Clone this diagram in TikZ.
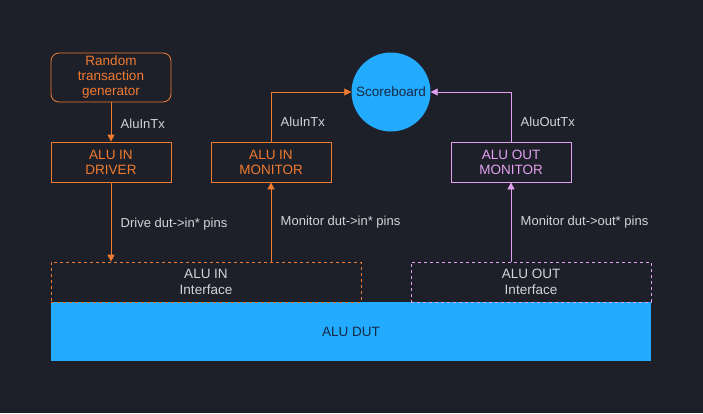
\documentclass[tikz,border=0pt]{standalone}
\usepackage{fontspec}
\setmainfont{Liberation Sans}
\usetikzlibrary{arrows.meta}
\definecolor{bgcol}{RGB}{30,32,41}
\definecolor{orng}{RGB}{240,122,48}
\definecolor{vio}{RGB}{226,160,240}
\definecolor{dutblue}{RGB}{34,171,255}
\definecolor{lblgray}{RGB}{212,212,216}
\definecolor{darktxt}{RGB}{22,40,68}
\begin{document}
\begin{tikzpicture}[x=1pt,y=-1pt,
    box/.style={draw=#1,text=#1,line width=0.8pt,minimum width=120pt,minimum height=40pt,inner sep=0pt,align=center,font=\fontsize{13.5}{15}\selectfont},
    iface/.style={draw=#1,dashed,line width=0.7pt,inner sep=0pt,align=center,text=lblgray,font=\fontsize{13.5}{15.5}\selectfont},
    lbl/.style={text=lblgray,font=\fontsize{13}{15}\selectfont,right,xshift=6pt},
    conn/.style={draw=#1,line width=0.8pt,-{Triangle[width=7pt,length=7pt]}}]
    \fill[bgcol] (0,0) rectangle (703,413);
    \useasboundingbox (0,0) rectangle (703,413);
    \node[box=orng,rounded corners=8pt,minimum height=49pt] (gen) at (111,77.5) {Random\\transaction\\generator};
    \node[box=orng] (drv) at (111,162) {ALU IN\\DRIVER};
    \node[box=orng] (mon) at (271,162) {ALU IN\\MONITOR};
    \node[box=vio] (omon) at (511,162) {ALU OUT\\MONITOR};
    \node[circle,fill=dutblue,minimum size=79pt,inner sep=0pt,text=darktxt,font=\fontsize{13.5}{15}\selectfont] (sb) at (391,92) {Scoreboard};
    \node[fill=dutblue,minimum width=600pt,minimum height=59pt,inner sep=0pt,text=darktxt,font=\fontsize{13.5}{15}\selectfont] (dut) at (351,331.5) {ALU DUT};
    \node[iface=orng,minimum width=310pt,minimum height=40pt] (inif) at (206,282) {ALU IN\\Interface};
    \node[iface=vio,minimum width=240pt,minimum height=40pt] (outif) at (531,282) {ALU OUT\\Interface};
    % connectors
    \draw[conn=orng] (gen) -- node[lbl,yshift=-2pt] {AluInTx} (drv);
    \draw[conn=orng] (mon.north) |- node[lbl,pos=0.2] {AluInTx} (sb.west);
    \draw[conn=vio] (omon.north) |- node[lbl,pos=0.2] {AluOutTx} (sb.east);
    \draw[conn=orng] (drv) -- node[lbl,yshift=-2pt] {Drive dut->in* pins} (drv |- inif.north);
    \draw[conn=orng] (mon |- inif.north) -- node[lbl] {Monitor dut->in* pins} (mon);
    \draw[conn=vio] (omon |- outif.north) -- node[lbl] {Monitor dut->out* pins} (omon);
\end{tikzpicture}
\end{document}
